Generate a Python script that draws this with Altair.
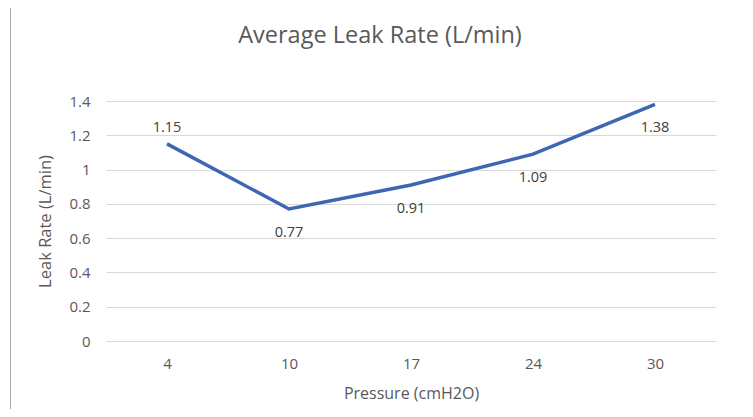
import altair as alt
import pandas as pd

pressure = ["4", "10", "17", "24", "30"]
leak = [1.15, 0.77, 0.91, 1.09, 1.38]
label_above = [True, False, False, False, False]
y_ticks = [0, 0.2, 0.4, 0.6, 0.8, 1, 1.2, 1.4]

df = pd.DataFrame({"p": pressure, "v": leak, "above": label_above})

FONT = "Open Sans"
GREY = "#595959"

x = alt.X("p:N", sort=pressure, scale=alt.Scale(paddingOuter=0.5),
          axis=alt.Axis(title="Pressure (cmH2O)", labelAngle=0, ticks=False, domain=False,
                        labelPadding=15, labelFontSize=15, labelColor=GREY, labelFont=FONT,
                        titleFontSize=16, titleColor=GREY, titleFont=FONT, titleFontWeight="normal",
                        titleY=52, titleBaseline="middle", grid=False))
y = alt.Y("v:Q", scale=alt.Scale(domain=[0, 1.4], nice=False),
          axis=alt.Axis(title="Leak Rate (L/min)", values=y_ticks, format="~g",
                        ticks=False, domain=False, labelPadding=16, labelFontSize=15,
                        labelColor=GREY, labelFont=FONT, gridColor="#d9d9d9", gridWidth=1,
                        labelOverlap=False,
                        titleFontSize=16.5, titleColor=GREY, titleFont=FONT, titleFontWeight="normal",
                        titleX=-61, titleY=120, titleAngle=-90, titleAlign="center",
                        titleBaseline="middle"))

base = alt.Chart(df)

border_left = base.transform_filter("datum.above").mark_rule(
    color="#a6a6a6", strokeWidth=1).encode(
    x=alt.value(-95.5), y=alt.value(-94), y2=alt.value(330))
border_top = base.transform_filter("datum.above").mark_rule(
    color="#a6a6a6", strokeWidth=1).encode(
    y=alt.value(-93.5), x=alt.value(-96), x2=alt.value(660))

line = base.mark_line(color="#3e66b3", strokeWidth=3.5).encode(x=x, y=y)

lab_above = base.transform_filter("datum.above").mark_text(
    dy=-16, fontSize=14.5, color="#404040", font=FONT).encode(
    x=x, y=y, text=alt.Text("v:Q", format=".2f"))
lab_below = base.transform_filter("!datum.above").mark_text(
    dy=24, fontSize=14.5, color="#404040", font=FONT).encode(
    x=x, y=y, text=alt.Text("v:Q", format=".2f"))

chart = alt.layer(border_left, border_top, line, lab_above, lab_below).properties(
    width=610, height=240,
    background="white",
    view=alt.ViewBackground(strokeWidth=0, stroke="transparent"),
    title=alt.TitleParams("Average Leak Rate (L/min)", fontSize=23.5, font=FONT, color=GREY,
                          fontWeight="normal", anchor="middle", frame="group", dx=-31,
                          offset=-41),
    autosize=alt.AutoSizeParams(type="none"),
    padding={"left": 98, "top": 93, "right": 29, "bottom": 68},
).configure_view(stroke="transparent", strokeWidth=0).configure_axis(
    domain=False, ticks=False).configure_axisX(grid=False)

chart.save("out.html", embed_options={"renderer": "svg", "actions": False})
